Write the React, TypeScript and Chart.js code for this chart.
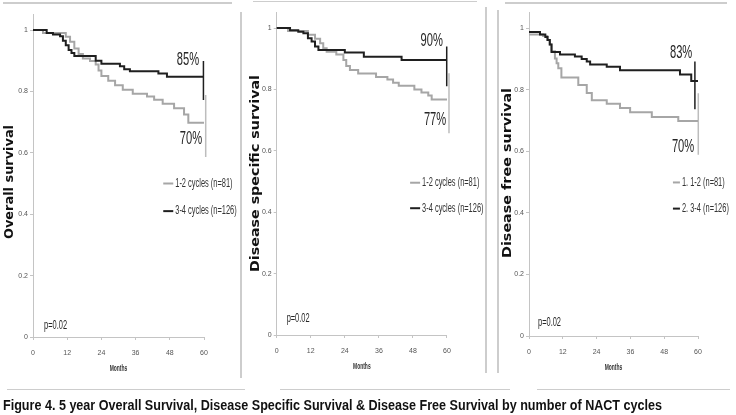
import React, { useEffect, useRef } from "react";
import { Chart, registerables } from "chart.js";
Chart.register(...registerables);

// ---------- axis ticks ----------
const xTickValues = [0, 12, 24, 36, 48, 60];
const yTickValues = [0, 0.2, 0.4, 0.6, 0.8, 1];
const yTickLabels = ["0", "0.2", "0.4", "0.6", "0.8", "1"];

// ---------- Overall survival ----------
const osMonths12 = [0, 3.5, 11.5, 13, 14.5, 16, 17.5, 20, 22, 23, 24, 26.4, 28.8, 31.5, 35, 40, 42.5, 45.5, 49.5, 53, 54.5, 60];
const osSurv12 = [1, 0.99, 0.978, 0.962, 0.94, 0.922, 0.907, 0.899, 0.888, 0.868, 0.85, 0.835, 0.82, 0.805, 0.792, 0.783, 0.773, 0.76, 0.745, 0.725, 0.698, 0.698];
const osMonths34 = [0, 4.8, 7, 9.5, 10.5, 11.5, 12.5, 13.5, 14.5, 22, 24, 30.5, 32, 34, 44, 47, 60];
const osSurv34 = [1, 0.99, 0.985, 0.98, 0.965, 0.95, 0.935, 0.925, 0.915, 0.9, 0.89, 0.882, 0.872, 0.866, 0.858, 0.848, 0.848];
const osBarX = [59.8, 60.6];
const osBarTop = [0.899, 0.788];
const osBarBottom = [0.772, 0.586];
const osPctText = ["85%", "70%"];
const osPctX = [54.4, 55.4];
const osPctY = [0.902, 0.645];

// ---------- Disease specific survival ----------
const dssMonths12 = [0, 4, 11, 13.5, 15.3, 16.4, 17.6, 21, 23.5, 24.5, 25.8, 28.7, 35, 39, 41, 43, 48.5, 51, 53.4, 54.6, 60];
const dssSurv12 = [1, 0.99, 0.978, 0.965, 0.95, 0.934, 0.923, 0.914, 0.896, 0.876, 0.863, 0.852, 0.84, 0.832, 0.822, 0.812, 0.8, 0.79, 0.78, 0.767, 0.767];
const dssMonths34 = [0, 4.7, 7.6, 9.4, 11, 12.3, 13.5, 14.7, 24, 30.7, 44, 60];
const dssSurv34 = [1, 0.993, 0.988, 0.983, 0.967, 0.956, 0.94, 0.928, 0.92, 0.906, 0.896, 0.896];
const dssBarX = [59.9, 60.7];
const dssBarTop = [0.94, 0.853];
const dssBarBottom = [0.81, 0.657];
const dssPctText = ["90%", "77%"];
const dssPctX = [54.6, 55.8];
const dssPctY = [0.956, 0.7];

// ---------- Disease free survival ----------
const dfsMonths12 = [0, 5, 6.5, 7.3, 8, 9.2, 9.8, 10.4, 11.5, 17.5, 20.5, 22.3, 27.6, 32.3, 35.9, 43.6, 53, 60];
const dfsSurv12 = [0.98, 0.975, 0.962, 0.947, 0.925, 0.902, 0.886, 0.87, 0.84, 0.816, 0.79, 0.766, 0.755, 0.741, 0.727, 0.712, 0.699, 0.699];
const dfsMonths34 = [0, 3.9, 5.8, 6.6, 7.4, 8, 11, 16.3, 18.7, 20.5, 21.7, 27.6, 32.3, 53.6, 57.6, 60];
const dfsSurv34 = [0.988, 0.98, 0.972, 0.962, 0.947, 0.923, 0.915, 0.908, 0.9, 0.892, 0.882, 0.875, 0.864, 0.85, 0.829, 0.829];
const dfsBarX = [58.9, 60.1];
const dfsBarTop = [0.892, 0.789];
const dfsBarBottom = [0.737, 0.589];
const dfsPctText = ["83%", "70%"];
const dfsPctX = [54, 54.7];
const dfsPctY = [0.92, 0.615];

// ---------- texts ----------
const cyclesLegend = ["1-2 cycles (n=81)", "3-4 cycles (n=126)"];
const dfsLegend = ["1. 1-2 (n=81)", "2. 3-4 (n=126)"];
const pValueText = "p=0.02";
const xTitle = "Months";
const caption =
  "Figure 4. 5 year Overall Survival, Disease Specific Survival & Disease Free Survival by number of NACT cycles";

const BLACK = "#1f1f1f";
const GRAY = "#a6a6a6";
const GRAY_BAR = "#bdbdbd";
const AXIS = "#c4c4c4";
const W = 736;
const H = 415;
const Y_W = 25;
const X_H = 30;

type PanelCfg = {
  key: string;
  plot: { left: number; right: number; top: number; bottom: number };
  m12: number[]; s12: number[]; m34: number[]; s34: number[];
  barX: number[]; barTop: number[]; barBottom: number[];
  pctText: string[]; pctX: number[]; pctY: number[];
  legend: string[]; legendX: number; legendY: number[]; sample: number;
  pX: number; pY: number;
  title: string; titleX: number; titleY: number; titleLen: number;
};

const panels: PanelCfg[] = [
  {
    key: "os",
    plot: { left: 33, right: 204, top: 14.65, bottom: 337 },
    m12: osMonths12, s12: osSurv12, m34: osMonths34, s34: osSurv34,
    barX: osBarX, barTop: osBarTop, barBottom: osBarBottom,
    pctText: osPctText, pctX: osPctX, pctY: osPctY,
    legend: cyclesLegend, legendX: 45.7, legendY: [0.5, 0.41], sample: 10,
    pX: 3.9, pY: 0.036,
    title: "Overall survival", titleX: 10, titleY: 182, titleLen: 114,
  },
  {
    key: "dss",
    plot: { left: 276.7, right: 447, top: 12.65, bottom: 335 },
    m12: dssMonths12, s12: dssSurv12, m34: dssMonths34, s34: dssSurv34,
    barX: dssBarX, barTop: dssBarTop, barBottom: dssBarBottom,
    pctText: dssPctText, pctX: dssPctX, pctY: dssPctY,
    legend: cyclesLegend, legendX: 47, legendY: [0.496, 0.413], sample: 10,
    pX: 3.5, pY: 0.052,
    title: "Disease specific survival", titleX: 256, titleY: 173.5, titleLen: 197,
  },
  {
    key: "dfs",
    plot: { left: 529, right: 698, top: 12.9, bottom: 336 },
    m12: dfsMonths12, s12: dfsSurv12, m34: dfsMonths34, s34: dfsSurv34,
    barX: dfsBarX, barTop: dfsBarTop, barBottom: dfsBarBottom,
    pctText: dfsPctText, pctX: dfsPctX, pctY: dfsPctY,
    legend: dfsLegend, legendX: 51.1, legendY: [0.499, 0.414], sample: 7,
    pX: 3.2, pY: 0.042,
    title: "Disease free survival", titleX: 508, titleY: 173, titleLen: 170,
  },
];

const zip = (xs: number[], ys: number[]) => xs.map((x, i) => ({ x, y: ys[i] }));

function drawNarrow(
  ctx: CanvasRenderingContext2D, text: string, x: number, y: number,
  font: string, sx: number, align: "left" | "center", color: string
) {
  ctx.save();
  ctx.font = font;
  ctx.fillStyle = color;
  ctx.textBaseline = "middle";
  ctx.textAlign = "left";
  const w = ctx.measureText(text).width * sx;
  const left = align === "center" ? x - w / 2 : x;
  ctx.translate(left, y);
  ctx.scale(sx, 1);
  ctx.fillText(text, 0, 0);
  ctx.restore();
}

function annotPlugin(p: PanelCfg) {
  return {
    id: "annot_" + p.key,
    afterDraw(chart: any) {
      const ctx: CanvasRenderingContext2D = chart.ctx;
      const xs = chart.scales.x;
      const ys = chart.scales.y;
      const area = chart.chartArea;
      p.pctText.forEach((t, i) => {
        drawNarrow(ctx, t, xs.getPixelForValue(p.pctX[i]), ys.getPixelForValue(p.pctY[i]),
          '18px "Liberation Sans"', 0.62, "center", "#262626");
      });
      drawNarrow(ctx, pValueText, xs.getPixelForValue(p.pX), ys.getPixelForValue(p.pY),
        '12px "Liberation Sans"', 0.62, "left", "#262626");
      const colors = [GRAY, BLACK];
      p.legend.forEach((t, i) => {
        const px = xs.getPixelForValue(p.legendX);
        const py = ys.getPixelForValue(p.legendY[i]);
        ctx.save();
        ctx.strokeStyle = colors[i];
        ctx.lineWidth = 2;
        ctx.beginPath();
        ctx.moveTo(px, py);
        ctx.lineTo(px + p.sample, py);
        ctx.stroke();
        ctx.restore();
        drawNarrow(ctx, t, px + p.sample + 2, py, '12px "Liberation Sans"', 0.62, "left", "#333");
      });
      drawNarrow(ctx, xTitle, (area.left + area.right) / 2, area.bottom + 32,
        'bold 9px "Liberation Sans"', 0.55, "center", "#333");
      ctx.save();
      ctx.font = 'bold 13px "DejaVu Sans"';
      const w = ctx.measureText(p.title).width;
      ctx.translate(p.titleX, p.titleY);
      ctx.rotate(-Math.PI / 2);
      ctx.scale(p.titleLen / w, 1);
      ctx.textAlign = "center";
      ctx.textBaseline = "middle";
      ctx.fillStyle = "#111";
      ctx.fillText(p.title, 0, 0);
      ctx.restore();
    },
  };
}

const tickFont = { family: "'Liberation Sans', sans-serif", size: 7 };

function makeConfig(p: PanelCfg): any {
  return {
    type: "line",
    data: {
      datasets: [
        { label: p.legend[1], data: zip(p.m34, p.s34), borderColor: BLACK, borderWidth: 2, stepped: true, pointRadius: 0, clip: false, fill: false },
        { label: p.legend[0], data: zip(p.m12, p.s12), borderColor: GRAY, borderWidth: 2, stepped: true, pointRadius: 0, clip: false, fill: false },
        { label: "end " + p.legend[1], data: [{ x: p.barX[0], y: p.barTop[0] }, { x: p.barX[0], y: p.barBottom[0] }], borderColor: BLACK, borderWidth: 1.5, pointRadius: 0, clip: false },
        { label: "end " + p.legend[0], data: [{ x: p.barX[1], y: p.barTop[1] }, { x: p.barX[1], y: p.barBottom[1] }], borderColor: GRAY_BAR, borderWidth: 1.5, pointRadius: 0, clip: false },
      ],
    },
    options: {
      responsive: false,
      animation: false,
      events: [],
      layout: {
        padding: {
          left: p.plot.left - Y_W,
          right: W - p.plot.right,
          top: p.plot.top,
          bottom: H - p.plot.bottom - X_H,
        },
      },
      plugins: { legend: { display: false }, tooltip: { enabled: false }, title: { display: false } },
      scales: {
        x: {
          type: "linear", min: 0, max: 60, bounds: "data",
          afterBuildTicks: (s: any) => { s.ticks = xTickValues.map((v) => ({ value: v })); },
          afterFit: (s: any) => { s.height = X_H; s.paddingLeft = 0; s.paddingRight = 0; },
          ticks: { font: tickFont, color: "#555", padding: 9, autoSkip: false, maxRotation: 0, callback: (v: number) => String(v) },
          grid: { display: true, drawOnChartArea: false, drawTicks: true, tickLength: 3, color: AXIS },
          border: { display: true, color: AXIS, width: 1 },
          title: { display: false },
        },
        y: {
          type: "linear", min: 0, max: 1.05, bounds: "data",
          afterBuildTicks: (s: any) => { s.ticks = yTickValues.map((v) => ({ value: v })); },
          afterFit: (s: any) => { s.width = Y_W; s.paddingTop = 0; s.paddingBottom = 0; },
          ticks: {
            font: tickFont, color: "#555", padding: 2, autoSkip: false,
            callback: (v: number) => { const i = yTickValues.indexOf(v); return i >= 0 ? yTickLabels[i] : ""; },
          },
          grid: { display: true, drawOnChartArea: false, drawTicks: true, tickLength: 3, color: AXIS },
          border: { display: true, color: AXIS, width: 1 },
          title: { display: false },
        },
      },
    },
    plugins: [annotPlugin(p)],
  };
}

const frameLines = [
  { l: 3, t: 2, w: 229, h: 1.5 },
  { l: 253, t: 0.5, w: 224, h: 1.5 },
  { l: 505, t: 2, w: 222, h: 1.5 },
  { l: 240, t: 12, w: 1.5, h: 366 },
  { l: 485, t: 7, w: 1.5, h: 366 },
  { l: 497, t: 10, w: 1.5, h: 363 },
  { l: 7, t: 388.5, w: 238, h: 1.5 },
  { l: 280, t: 388.5, w: 230, h: 1.5 },
  { l: 537, t: 388.5, w: 193, h: 1.5 },
];

export default function App() {
  const r1 = useRef<HTMLCanvasElement>(null);
  const r2 = useRef<HTMLCanvasElement>(null);
  const r3 = useRef<HTMLCanvasElement>(null);
  const capRef = useRef<HTMLDivElement>(null);

  useEffect(() => {
    const refs = [r1, r2, r3];
    const charts = refs.map((r, i) => new Chart(r.current as HTMLCanvasElement, makeConfig(panels[i])));
    const el = capRef.current;
    if (el) {
      el.style.transform = "none";
      const w = el.getBoundingClientRect().width;
      if (w > 0) el.style.transform = `scaleX(${659 / w})`;
    }
    return () => charts.forEach((c) => c.destroy());
  }, []);

  const cv = { position: "absolute" as const, left: 0, top: 0, width: W, height: H };
  return (
    <div style={{ position: "absolute", left: 0, top: 0, width: W, height: H, overflow: "hidden", background: "#fff" }}>
      {frameLines.map((f, i) => (
        <div key={i} style={{ position: "absolute", left: f.l, top: f.t, width: f.w, height: f.h, background: "#cdcdcd" }} />
      ))}
      <canvas ref={r1} width={W} height={H} style={cv} />
      <canvas ref={r2} width={W} height={H} style={cv} />
      <canvas ref={r3} width={W} height={H} style={cv} />
      <div
        ref={capRef}
        style={{
          position: "absolute", left: 3, top: 397, whiteSpace: "nowrap",
          font: 'bold 14px "Liberation Sans", Arial, sans-serif', lineHeight: "16px",
          color: "#111", transformOrigin: "0 0",
        }}
      >
        {caption}
      </div>
    </div>
  );
}
